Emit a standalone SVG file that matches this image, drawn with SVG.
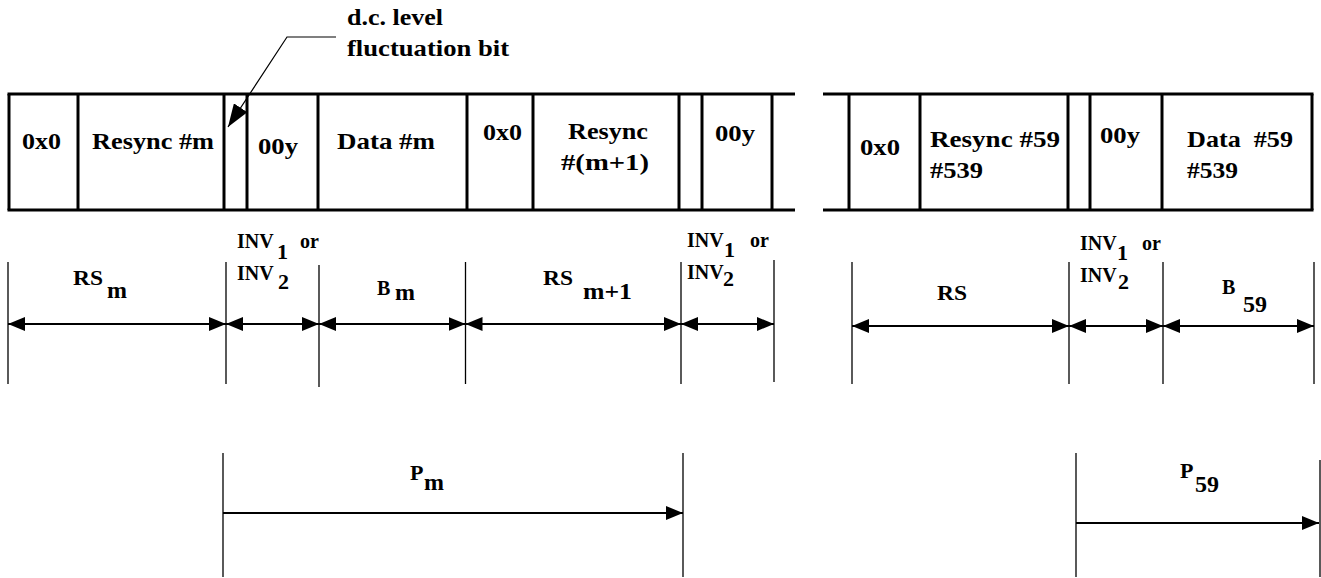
<svg xmlns="http://www.w3.org/2000/svg" width="1321" height="578" viewBox="0 0 1321 578">
<style>
text{font-family:'Liberation Serif','Times New Roman',serif;font-weight:bold;fill:#000}
.c{font-size:24px}
.l{font-size:20px}
.s{font-size:24px}
.d{font-size:22px}
.frame{stroke:#000;stroke-width:3;fill:none}
.tick{stroke:#000;stroke-width:1.3;fill:none}
.dim{stroke:#000;stroke-width:2;fill:none;marker-start:url(#ah);marker-end:url(#ah)}
.one{stroke:#000;stroke-width:2;fill:none;marker-end:url(#ah)}
.lead{stroke:#000;stroke-width:1.2;fill:none;marker-end:url(#lh)}
</style>
<defs>
<marker id="ah" markerUnits="userSpaceOnUse" markerWidth="18" markerHeight="14" refX="17" refY="7" orient="auto-start-reverse">
<path d="M0,0 L17,7 L0,14 Z" fill="#000"/>
</marker>
<marker id="lh" markerUnits="userSpaceOnUse" markerWidth="24" markerHeight="16" refX="23" refY="8" orient="auto">
<path d="M0,0 L23,8 L0,16 Z" fill="#000"/>
</marker>
</defs>
<rect width="1321" height="578" fill="#fff"/>

<g id="frame-left">
<line class="frame" x1="7.5" y1="94" x2="795" y2="94"/>
<line class="frame" x1="7.5" y1="210" x2="795" y2="210"/>
<line class="frame" x1="9" y1="94" x2="9" y2="210"/>
<line class="frame" x1="78" y1="94" x2="78" y2="210"/>
<line class="frame" x1="224" y1="94" x2="224" y2="210"/>
<line class="frame" x1="247" y1="94" x2="247" y2="210"/>
<line class="frame" x1="318" y1="94" x2="318" y2="210"/>
<line class="frame" x1="467" y1="94" x2="467" y2="210"/>
<line class="frame" x1="533" y1="94" x2="533" y2="210"/>
<line class="frame" x1="679" y1="94" x2="679" y2="210"/>
<line class="frame" x1="702" y1="94" x2="702" y2="210"/>
<line class="frame" x1="772" y1="94" x2="772" y2="210"/>
</g>
<g id="frame-right">
<line class="frame" x1="823" y1="94" x2="1313.5" y2="94"/>
<line class="frame" x1="823" y1="210" x2="1313.5" y2="210"/>
<line class="frame" x1="849" y1="94" x2="849" y2="210"/>
<line class="frame" x1="920" y1="94" x2="920" y2="210"/>
<line class="frame" x1="1068" y1="94" x2="1068" y2="210"/>
<line class="frame" x1="1090" y1="94" x2="1090" y2="210"/>
<line class="frame" x1="1162" y1="94" x2="1162" y2="210"/>
<line class="frame" x1="1312" y1="94" x2="1312" y2="210"/>
</g>

<g id="cell-0x0-a"><text class="c" x="22" y="149" textLength="39" lengthAdjust="spacingAndGlyphs">0x0</text></g>
<g id="cell-resync-m"><text class="c" x="92" y="149" textLength="122" lengthAdjust="spacingAndGlyphs">Resync #m</text></g>
<g id="cell-00y-a"><text class="c" x="258" y="154" textLength="40" lengthAdjust="spacingAndGlyphs">00y</text></g>
<g id="cell-data-m"><text class="c" x="337" y="149" textLength="98" lengthAdjust="spacingAndGlyphs">Data #m</text></g>
<g id="cell-0x0-b"><text class="c" x="483" y="140" textLength="39" lengthAdjust="spacingAndGlyphs">0x0</text></g>
<g id="cell-resync-m1"><text class="c" x="568" y="139" textLength="80" lengthAdjust="spacingAndGlyphs">Resync</text><text class="c" x="561" y="170" textLength="88" lengthAdjust="spacingAndGlyphs">#(m+1)</text></g>
<g id="cell-00y-b"><text class="c" x="715" y="141" textLength="40" lengthAdjust="spacingAndGlyphs">00y</text></g>
<g id="cell-0x0-c"><text class="c" x="860" y="155" textLength="40" lengthAdjust="spacingAndGlyphs">0x0</text></g>
<g id="cell-resync-59"><text class="c" x="930" y="147" textLength="130" lengthAdjust="spacingAndGlyphs">Resync #59</text><text class="c" x="930" y="178" textLength="53" lengthAdjust="spacingAndGlyphs">#539</text></g>
<g id="cell-00y-c"><text class="c" x="1100" y="143" textLength="40" lengthAdjust="spacingAndGlyphs">00y</text></g>
<g id="cell-data-59"><text class="c" x="1187" y="147" textLength="106" lengthAdjust="spacingAndGlyphs" xml:space="preserve">Data  #59</text><text class="c" x="1187" y="178" textLength="51" lengthAdjust="spacingAndGlyphs">#539</text></g>

<g id="note-dc">
<text class="c" x="347" y="25" textLength="96" lengthAdjust="spacingAndGlyphs">d.c. level</text>
<text class="c" x="347" y="56" textLength="162" lengthAdjust="spacingAndGlyphs">fluctuation bit</text>
</g>

<g id="ticks">
<line class="tick" x1="8" y1="262" x2="8" y2="384"/>
<line class="tick" x1="226" y1="262" x2="226" y2="384"/>
<line class="tick" x1="319" y1="265" x2="319" y2="387"/>
<line class="tick" x1="465.5" y1="262" x2="465.5" y2="384"/>
<line class="tick" x1="681" y1="262" x2="681" y2="384"/>
<line class="tick" x1="774" y1="260" x2="774" y2="382"/>
<line class="tick" x1="852" y1="262" x2="852" y2="384"/>
<line class="tick" x1="1069" y1="262" x2="1069" y2="384"/>
<line class="tick" x1="1163" y1="262" x2="1163" y2="384"/>
<line class="tick" x1="1314" y1="262" x2="1314" y2="384"/>
<line class="tick" x1="223" y1="453" x2="223" y2="577"/>
<line class="tick" x1="683" y1="453" x2="683" y2="577"/>
<line class="tick" x1="1076" y1="453" x2="1076" y2="577"/>
<line class="tick" x1="1320" y1="460" x2="1320" y2="577" stroke="#777"/>
</g>

<g id="connectors">
<polyline class="lead" points="336,37 287,37 228,127"/>
<line class="dim" x1="8" y1="324" x2="226" y2="324"/>
<line class="dim" x1="226" y1="324" x2="319" y2="324"/>
<line class="dim" x1="319" y1="324" x2="465.5" y2="324"/>
<line class="dim" x1="465.5" y1="324" x2="681" y2="324"/>
<line class="dim" x1="681" y1="324" x2="774" y2="324"/>
<line class="dim" x1="852" y1="326" x2="1069" y2="326"/>
<line class="dim" x1="1069" y1="326" x2="1163" y2="326"/>
<line class="dim" x1="1163" y1="326" x2="1314" y2="326"/>
<line class="one" x1="223" y1="513" x2="683" y2="513"/>
<line class="one" x1="1076" y1="523" x2="1319" y2="523"/>
</g>

<g id="label-rs-m"><text class="l" x="73" y="285" textLength="30" lengthAdjust="spacingAndGlyphs">RS</text><text class="s" x="107" y="298">m</text></g>
<g id="label-inv-a"><text class="l" x="237" y="248">INV</text><text class="d" x="277" y="259">1</text><text class="l" x="300" y="248">or</text><text class="l" x="237" y="280">INV</text><text class="d" x="278" y="289">2</text></g>
<g id="label-b-m"><text class="l" x="377" y="295">B</text><text class="s" x="395" y="300">m</text></g>
<g id="label-rs-m1"><text class="l" x="543" y="285" textLength="30" lengthAdjust="spacingAndGlyphs">RS</text><text class="s" x="583" y="299" textLength="49" lengthAdjust="spacingAndGlyphs">m+1</text></g>
<g id="label-inv-b"><text class="l" x="687" y="247">INV</text><text class="d" x="724" y="257">1</text><text class="l" x="750" y="247">or</text><text class="l" x="687" y="279">INV</text><text class="d" x="723" y="286">2</text></g>
<g id="label-rs"><text class="l" x="937" y="300" textLength="30" lengthAdjust="spacingAndGlyphs">RS</text></g>
<g id="label-inv-c"><text class="l" x="1080" y="250">INV</text><text class="d" x="1117" y="260">1</text><text class="l" x="1142" y="250">or</text><text class="l" x="1080" y="282">INV</text><text class="d" x="1118" y="289">2</text></g>
<g id="label-b-59"><text class="l" x="1222" y="294">B</text><text class="s" x="1243" y="312">59</text></g>
<g id="label-p-m"><text class="d" x="410" y="480">P</text><text class="s" x="424" y="490">m</text></g>
<g id="label-p-59"><text class="d" x="1180" y="478">P</text><text class="s" x="1195" y="492">59</text></g>
</svg>
